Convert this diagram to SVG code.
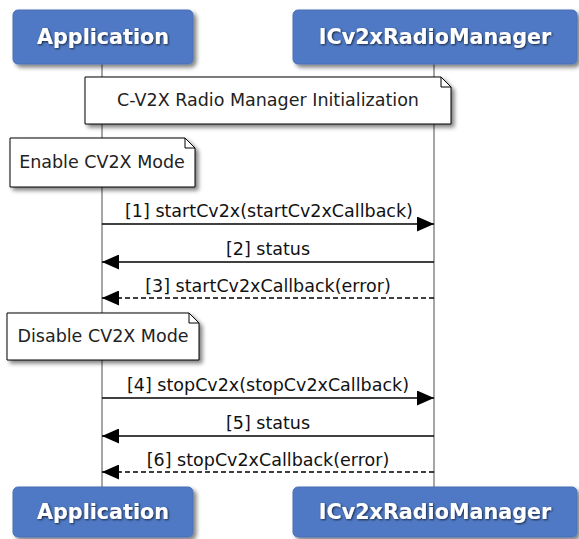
<svg xmlns="http://www.w3.org/2000/svg" width="579" height="539" viewBox="0 0 579 539">
<style>
.actor{fill:#5079C4;stroke:#4A6FB5;stroke-width:1}
.atext{font-family:"DejaVu Sans",sans-serif;font-weight:bold;font-size:20.7px;fill:#fff;text-anchor:middle}
.note{fill:#fff;stroke:#000;stroke-width:1}
.ntext{font-family:"DejaVu Sans",sans-serif;font-size:17.5px;fill:#222;text-anchor:middle}
.mtext{font-family:"DejaVu Sans",sans-serif;font-size:17.5px;fill:#111;text-anchor:middle}
.life{stroke:#888;stroke-width:1.5;fill:none}
.msg{stroke:#000;stroke-width:1.5;fill:none}
.dash{stroke-dasharray:5,3}
</style>
<defs>
<filter id="sh" x="-10%" y="-10%" width="130%" height="140%">
<feGaussianBlur in="SourceAlpha" stdDeviation="2"/>
<feOffset dx="3" dy="3" result="b"/>
<feComponentTransfer><feFuncA type="linear" slope="0.5"/></feComponentTransfer>
<feMerge><feMergeNode/><feMergeNode in="SourceGraphic"/></feMerge>
</filter>
<filter id="tsh" x="-10%" y="-20%" width="120%" height="160%">
<feGaussianBlur in="SourceAlpha" stdDeviation="1.2"/>
<feOffset dx="1" dy="1"/>
<feComponentTransfer><feFuncA type="linear" slope="0.7"/></feComponentTransfer>
<feMerge><feMergeNode/><feMergeNode in="SourceGraphic"/></feMerge>
</filter>
<marker id="ah" viewBox="0 0 17 15" refX="17" refY="7.5" markerWidth="17" markerHeight="15" markerUnits="userSpaceOnUse" orient="auto">
<path d="M0,0 L17,7.5 L0,15 Z" fill="#000"/>
</marker>
</defs>
<g id="lifelines">
<line class="life" x1="102" y1="64" x2="102" y2="487"/>
<line class="life" x1="434" y1="64" x2="434" y2="487"/>
</g>
<g id="app-top">
<rect class="actor" x="13" y="10" width="180" height="54" rx="5" filter="url(#sh)"/>
<text class="atext" x="103" y="44" filter="url(#tsh)">Application</text>
</g>
<g id="mgr-top">
<rect class="actor" x="293" y="10" width="284" height="54" rx="5" filter="url(#sh)"/>
<text class="atext" x="435" y="44" filter="url(#tsh)">ICv2xRadioManager</text>
</g>
<g id="note-init">
<path class="note" d="M85,77 H441 L451,87 V124 H85 Z" filter="url(#sh)"/>
<path d="M441,77 V87 H451" fill="none" stroke="#000"/>
<text class="ntext" x="268" y="106">C-V2X Radio Manager Initialization</text>
</g>
<g id="note-enable">
<path class="note" d="M10,138 H185 L195,148 V187 H10 Z" filter="url(#sh)"/>
<path d="M185,138 V148 H195" fill="none" stroke="#000"/>
<text class="ntext" x="102" y="168">Enable CV2X Mode</text>
</g>
<g id="note-disable">
<path class="note" d="M7,313 H189 L199,323 V360 H7 Z" filter="url(#sh)"/>
<path d="M189,313 V323 H199" fill="none" stroke="#000"/>
<text class="ntext" x="103" y="342">Disable CV2X Mode</text>
</g>
<g id="connectors">
<line class="msg" x1="102" y1="224" x2="434" y2="224" marker-end="url(#ah)"/>
<text class="mtext" x="269" y="217">[1] startCv2x(startCv2xCallback)</text>
<line class="msg" x1="434" y1="262" x2="102" y2="262" marker-end="url(#ah)"/>
<text class="mtext" x="268" y="255">[2] status</text>
<line class="msg dash" x1="434" y1="298" x2="102" y2="298" marker-end="url(#ah)"/>
<text class="mtext" x="268" y="292">[3] startCv2xCallback(error)</text>
<line class="msg" x1="102" y1="398" x2="434" y2="398" marker-end="url(#ah)"/>
<text class="mtext" x="268" y="391">[4] stopCv2x(stopCv2xCallback)</text>
<line class="msg" x1="434" y1="436" x2="102" y2="436" marker-end="url(#ah)"/>
<text class="mtext" x="268" y="429">[5] status</text>
<line class="msg dash" x1="434" y1="472" x2="102" y2="472" marker-end="url(#ah)"/>
<text class="mtext" x="268" y="466">[6] stopCv2xCallback(error)</text>
</g>
<g id="app-bottom">
<rect class="actor" x="13" y="487" width="180" height="50" rx="5" filter="url(#sh)"/>
<text class="atext" x="103" y="519" filter="url(#tsh)">Application</text>
</g>
<g id="mgr-bottom">
<rect class="actor" x="293" y="487" width="284" height="50" rx="5" filter="url(#sh)"/>
<text class="atext" x="435" y="519" filter="url(#tsh)">ICv2xRadioManager</text>
</g>
</svg>
